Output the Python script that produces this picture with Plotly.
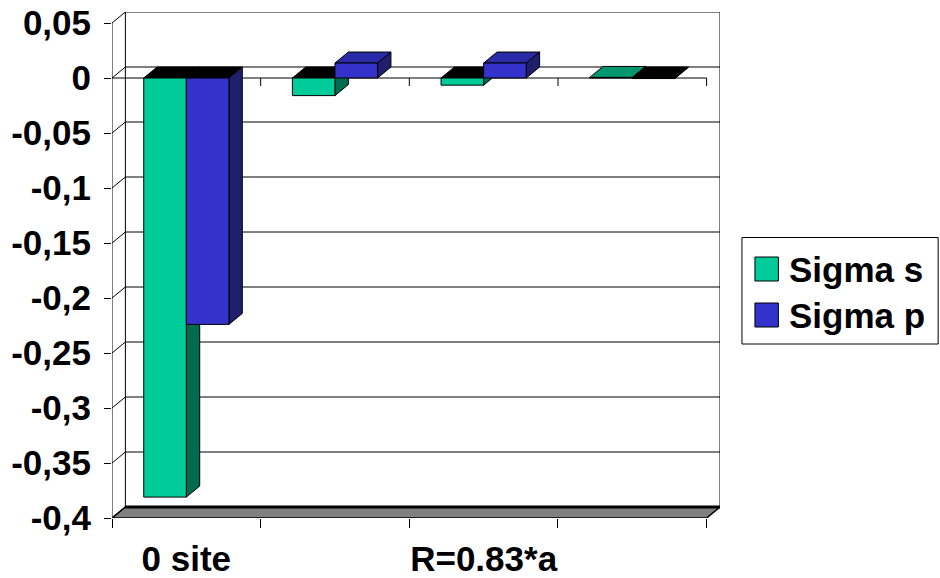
import plotly.graph_objects as go

# ---- data ---------------------------------------------------------------
categories = ["0 site", "", "R=0.83*a", ""]
sigma_s = [-0.381, -0.016, -0.0065, 0.0005]
sigma_p = [-0.224, 0.0136, 0.0136, -0.0005]
series_names = ["Sigma s", "Sigma p"]

y_ticks = [0.05, 0, -0.05, -0.1, -0.15, -0.2, -0.25, -0.3, -0.35, -0.4]
y_labels = ["0,05", "0", "-0,05", "-0,1", "-0,15", "-0,2", "-0,25", "-0,3", "-0,35", "-0,4"]

# ---- style --------------------------------------------------------------
FONT = "Liberation Sans, Arial, sans-serif"
FS = 35
colors = {
    "Sigma s": dict(front="#00CC99", side="#006B50", top="#00966F"),
    "Sigma p": dict(front="#3333CC", side="#1F1F6B", top="#2A2AA8"),
}
DX = 0.09          # box depth along the category axis (category units)
DY = 0.01          # box depth along the value axis (value units)
GAP = 0.427        # gap between category groups
BW = (1 - GAP) / 2  # width of one bar

W, H = 940, 578
ML, MR, MT, MB = 111.5, 219.5, 12, 60
PW, PH = W - ML - MR, H - MT - MB

pos = list(range(len(categories)))
x_lo, x_hi = -0.5, len(categories) - 0.5
y_lo, y_hi = min(y_ticks), max(y_ticks)


def path(points):
    return "M " + " L ".join(f"{x},{y}" for x, y in points) + " Z"


def px_x(px):
    return (px - ML) / PW


def px_y(py):
    return (H - MB - py) / PH


shapes = []
line_k = dict(color="black", width=1)

# floor
shapes.append(dict(type="path", xref="x", yref="y", layer="below",
                   path=path([(x_lo, y_lo), (x_hi, y_lo), (x_hi + DX, y_lo + DY), (x_lo + DX, y_lo + DY)]),
                   fillcolor="#808080", line=dict(color="black", width=1.5)))
shapes.append(dict(type="line", xref="x", yref="y", layer="below",
                   x0=x_lo + DX, x1=x_hi + DX, y0=y_lo + DY, y1=y_lo + DY,
                   line=dict(color="black", width=3)))

# back wall and side wall gridlines
for v in y_ticks:
    if v != y_lo:
        shapes.append(dict(type="line", xref="x", yref="y", layer="below",
                           x0=x_lo + DX, x1=x_hi + DX, y0=v + DY, y1=v + DY, line=line_k))
    shapes.append(dict(type="line", xref="x", yref="y", layer="below",
                       x0=x_lo, x1=x_lo + DX, y0=v, y1=v + DY, line=line_k))
for xe in (x_lo + DX, x_hi + DX):
    shapes.append(dict(type="line", xref="x", yref="y", layer="below",
                       x0=xe, x1=xe, y0=y_lo + DY, y1=y_hi + DY, line=line_k))

# front value axis line
shapes.append(dict(type="line", xref="x", yref="y", layer="below",
                   x0=x_lo, x1=x_lo, y0=y_lo, y1=y_hi, line=line_k))

# front zero line with category tick marks
shapes.append(dict(type="line", xref="x", yref="y", layer="below",
                   x0=x_lo, x1=x_hi, y0=0, y1=0, line=line_k))
for b in [p + 0.5 for p in pos]:
    shapes.append(dict(type="line", xref="x", yref="y", layer="below",
                       ysizemode="pixel", yanchor=0, x0=b, x1=b, y0=0, y1=-8, line=line_k))

# depth faces of the bars (tops and sides)
fig = go.Figure()
for name, vals, off in ((series_names[0], sigma_s, -BW), (series_names[1], sigma_p, 0.0)):
    c = colors[name]
    for p, v in zip(pos, vals):
        x0 = p + off
        x1 = x0 + BW
        hi, lo = max(v, 0), min(v, 0)
        top_fill = c["top"] if v >= 0 else "black"
        shapes.append(dict(type="path", xref="x", yref="y", layer="below",
                           path=path([(x0, hi), (x1, hi), (x1 + DX, hi + DY), (x0 + DX, hi + DY)]),
                           fillcolor=top_fill, line=line_k))
        shapes.append(dict(type="path", xref="x", yref="y", layer="below",
                           path=path([(x1, hi), (x1, lo), (x1 + DX, lo + DY), (x1 + DX, hi + DY)]),
                           fillcolor=c["side"], line=line_k))
    fig.add_trace(go.Bar(x=pos, y=vals, name=name, width=BW, offset=off,
                         marker=dict(color=c["front"], line=line_k),
                         showlegend=False, hoverinfo="name+y"))

# legend box
annotations = []
shapes.append(dict(type="rect", xref="paper", yref="paper",
                   x0=px_x(742.5), x1=px_x(939), y0=px_y(344), y1=px_y(237.5),
                   line=dict(color="black", width=1), fillcolor="white"))
for i, name in enumerate(series_names):
    cy = 269 + 46 * i
    shapes.append(dict(type="rect", xref="paper", yref="paper",
                       x0=px_x(755.5), x1=px_x(779), y0=px_y(cy + 12), y1=px_y(cy - 12),
                       line=dict(color="black", width=1), fillcolor=colors[name]["front"]))
    annotations.append(dict(xref="paper", yref="paper", x=px_x(788), y=px_y(cy),
                            xanchor="left", yanchor="middle", showarrow=False, text=name,
                            font=dict(family=FONT, size=FS, color="black", weight="bold")))

fig.update_layout(
    width=W, height=H,
    margin=dict(l=ML, r=MR, t=MT, b=MB, pad=0, autoexpand=False),
    paper_bgcolor="white", plot_bgcolor="white",
    barmode="overlay",
    showlegend=False,
    shapes=shapes, annotations=annotations,
    xaxis=dict(range=[x_lo, x_hi + DX], tickvals=pos, ticktext=categories,
               ticks="", showgrid=False, zeroline=False, showline=False,
               automargin=False,
               tickfont=dict(family=FONT, size=FS, color="black", weight="bold"),
               ticklabelstandoff=17,
               minor=dict(tickvals=[p - 0.5 for p in pos] + [x_hi], ticks="outside",
                          ticklen=9, tickwidth=1, tickcolor="black", showgrid=False)),
    yaxis=dict(range=[y_lo, y_hi + DY], tickvals=y_ticks, ticktext=y_labels,
               ticks="outside", ticklen=7, tickwidth=1, tickcolor="black",
               showgrid=False, zeroline=False, showline=False,
               automargin=False,
               tickfont=dict(family=FONT, size=FS, color="black", weight="bold"),
               ticklabelstandoff=6),
)

fig.write_html("out.html")
